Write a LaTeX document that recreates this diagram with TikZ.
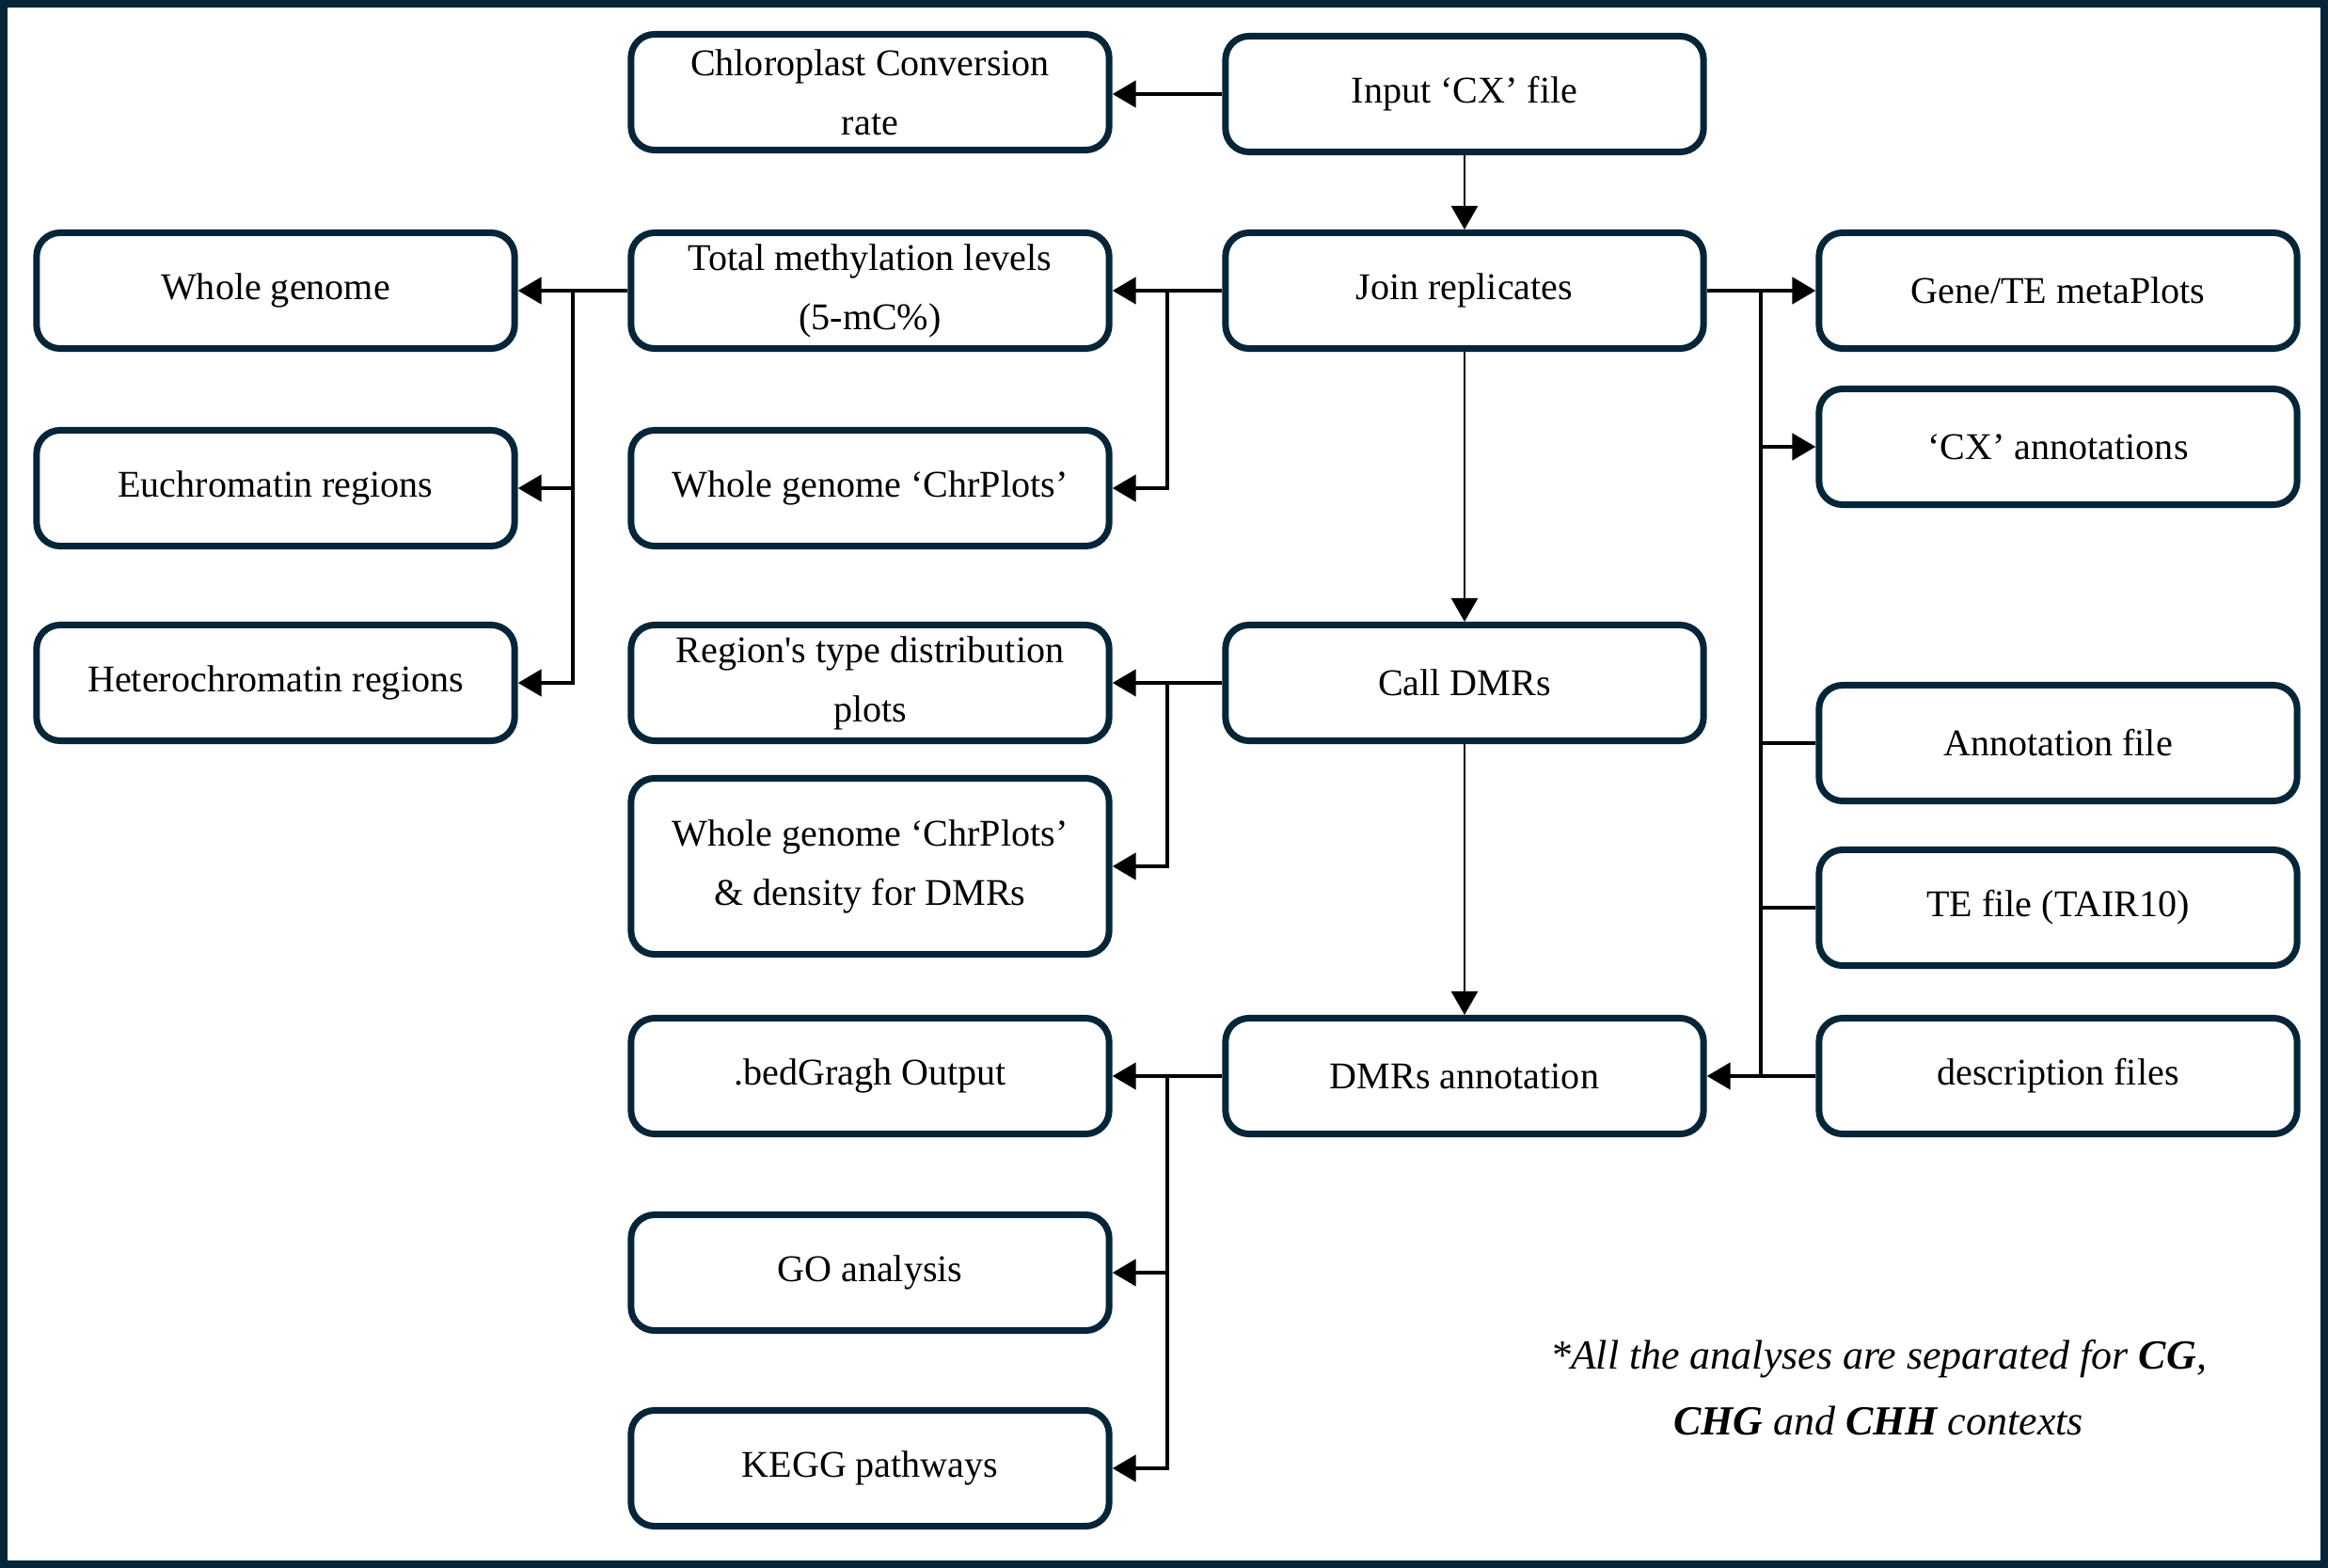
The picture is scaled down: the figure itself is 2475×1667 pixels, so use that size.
\documentclass[tikz,border=0pt]{standalone}
\usepackage{fontspec}
\setmainfont{Liberation Serif}[Ligatures=TeXOff]
\usetikzlibrary{arrows.meta}
\definecolor{navy}{RGB}{5,37,56}
\begin{document}
\begin{tikzpicture}[x=0.01cm,y=-0.01cm,
  box/.style={draw=navy, line width=0.07cm, rounded corners=0.25cm,
    minimum width=5.08cm, minimum height=1.23cm, align=center, inner sep=0pt,
    font=\fontsize{11.4}{17.9}\selectfont},
  thickline/.style={line width=0.045cm, black},
  thinline/.style={line width=0.025cm, black},
  tip/.style={-{Triangle[length=0.25cm,width=0.28cm]}}
]
% page and frame
\fill[white] (0,0) rectangle (2475,1667);
\draw[navy, line width=0.08cm] (4,4) rectangle (2471,1663);
\useasboundingbox (0,0) rectangle (2475,1667);

% boxes
\node[box] (chl) at (925,98) {Chloroplast Conversion\\rate};
\node[box] (inp) at (1557,100) {Input ‘CX’ file};
\node[box] (wg) at (293,309) {Whole genome};
\node[box] (tml) at (925,309) {Total methylation levels\\(5-mC\%)};
\node[box] (join) at (1557,309) {Join replicates};
\node[box] (gte) at (2188,309) {Gene/TE metaPlots};
\node[box] (eu) at (293,519) {Euchromatin regions};
\node[box] (chr) at (925,519) {Whole genome ‘ChrPlots’};
\node[box] (cxa) at (2188,475) {‘CX’ annotations};
\node[box] (het) at (293,726) {Heterochromatin regions};
\node[box] (reg) at (925,726) {Region's type distribution\\plots};
\node[box] (call) at (1557,726) {Call DMRs};
\node[box] (annf) at (2188,790) {Annotation file};
\node[box, minimum height=1.87cm] (chrd) at (925,921) {Whole genome ‘ChrPlots’\\\& density for DMRs};
\node[box] (tef) at (2188,965) {TE file (TAIR10)};
\node[box] (bed) at (925,1144) {.bedGragh Output};
\node[box] (dmra) at (1557,1144) {DMRs annotation};
\node[box] (desc) at (2188,1144) {description files};
\node[box] (go) at (925,1353) {GO analysis};
\node[box] (kegg) at (925,1561) {KEGG pathways};

\node[align=center, font=\fontsize{12.5}{19.8}\selectfont\itshape] (note) at (1997,1475)
  {*All the analyses are separated for \textbf{CG},\\\textbf{CHG} and \textbf{CHH} contexts};

% main chain
\draw[thickline,tip] (inp.west) -- (chl.east |- inp.west);
\draw[thinline,tip] (inp.south) -- (join.north);
\draw[thinline,tip] (join.south) -- (call.north);
\draw[thinline,tip] (call.south) -- (dmra.north);

% join replicates, left side
\coordinate (jL) at (1241,309);
\draw[thickline,tip] (join.west) -- (tml.east);
\draw[thickline,tip] (jL) |- (chr.east);

% total methylation to genome regions
\coordinate (tL) at (609,309);
\draw[thickline,tip] (tml.west) -- (wg.east);
\draw[thickline,tip] (tL) |- (eu.east);
\draw[thickline,tip] (tL) |- (het.east);

% join replicates, right side and annotation inputs
\coordinate (jR) at (1872,309);
\coordinate (jRb) at (1872,1144);
\draw[thickline,tip] (join.east) -- (gte.west);
\draw[thickline] (jR) -- (jRb);
\draw[thickline,tip] (jR |- cxa.west) -- (cxa.west);
\draw[thickline] (annf.west) -- (annf.west -| jR);
\draw[thickline] (tef.west) -- (tef.west -| jR);
\draw[thickline,tip] (desc.west) -- (dmra.east);

% call DMRs outputs
\coordinate (cL) at (1241,726);
\draw[thickline,tip] (call.west) -- (reg.east);
\draw[thickline,tip] (cL) |- (chrd.east);

% DMRs annotation outputs
\coordinate (dL) at (1241,1144);
\draw[thickline,tip] (dmra.west) -- (bed.east);
\draw[thickline,tip] (dL) |- (go.east);
\draw[thickline,tip] (dL) |- (kegg.east);
\end{tikzpicture}
\end{document}
